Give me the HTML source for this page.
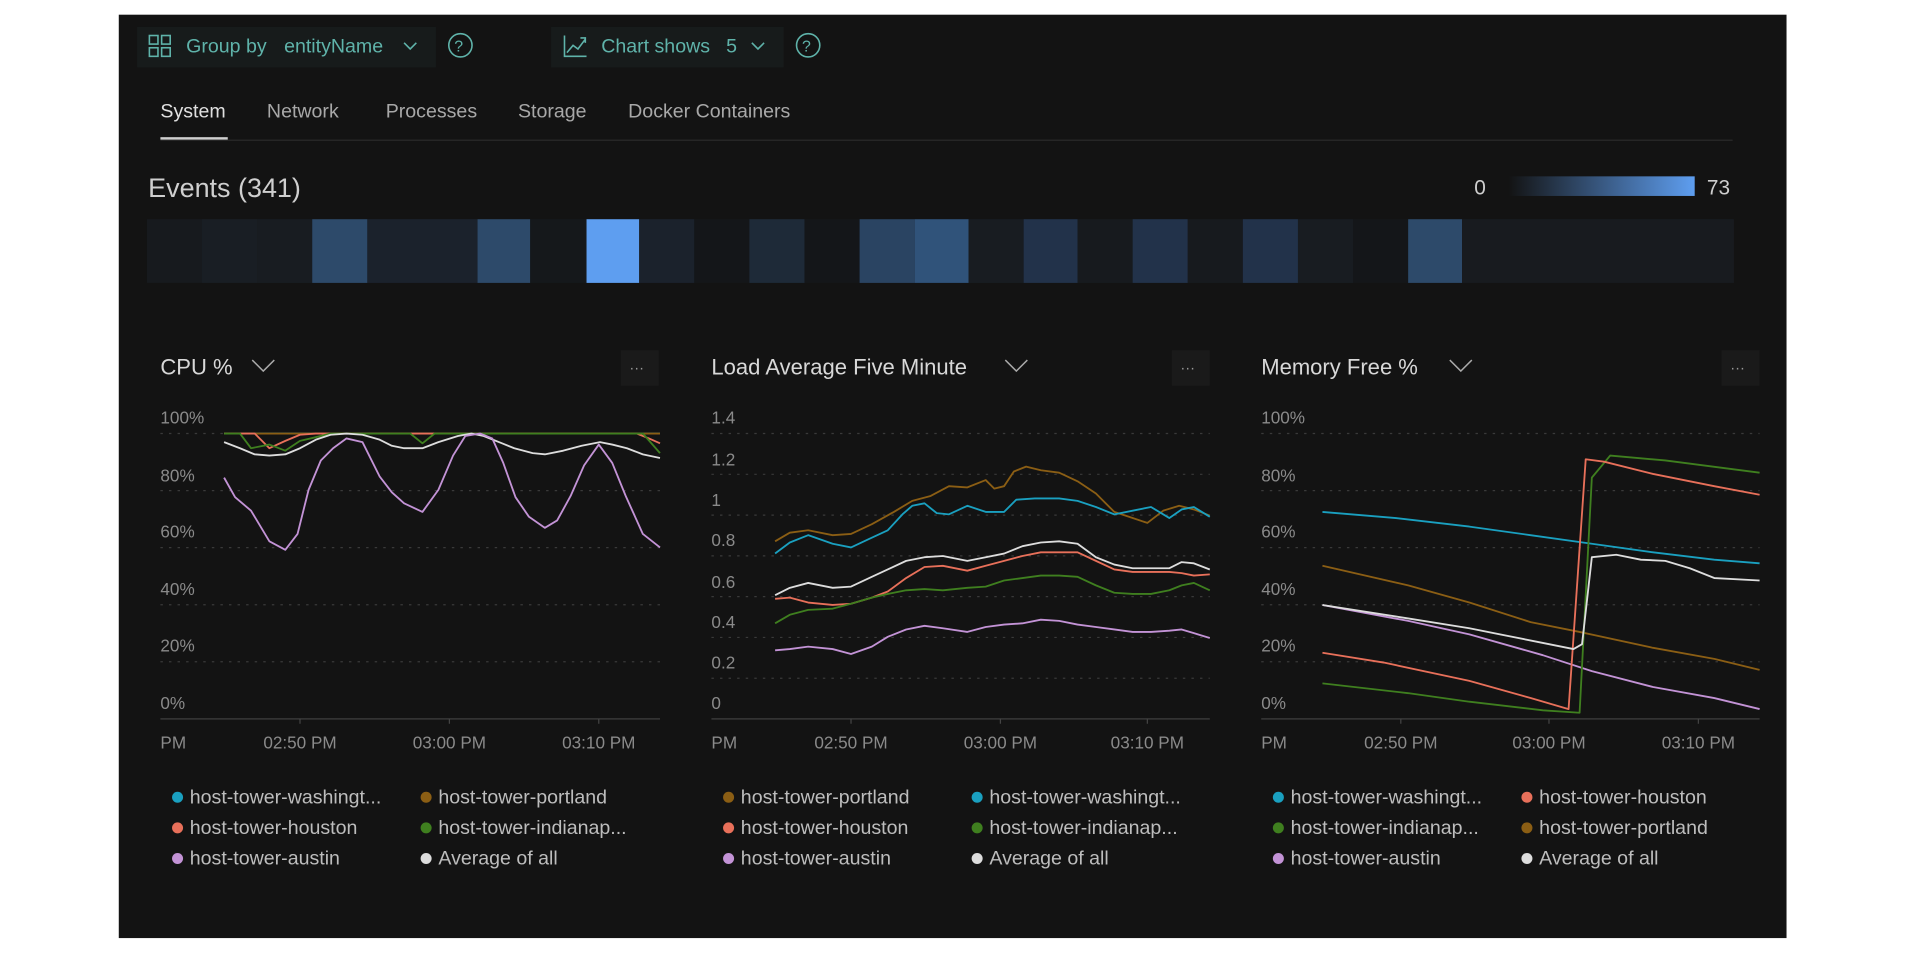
<!DOCTYPE html>
<html><head><meta charset="utf-8"><style>
html,body{margin:0;padding:0;background:#fff;width:1920px;height:954px;overflow:hidden}
svg{display:block}
text{font-family:"Liberation Sans",sans-serif}
</style></head><body>
<svg width="1920" height="954" viewBox="0 0 1568 779" preserveAspectRatio="none">
<rect x="0" y="0" width="1568" height="779" fill="#fff"/>
<rect x="97" y="12" width="1362" height="754" fill="#131313"/>
<!-- toolbar -->
<rect x="112" y="22" width="244" height="33" fill="#171b1b"/>
<rect x="450" y="22" width="190" height="33" fill="#171b1b"/>
<g fill="none" stroke="#5fb3aa" stroke-width="1.3">
<rect x="122" y="29" width="7" height="7"/><rect x="132" y="29" width="7" height="7"/>
<rect x="122" y="39" width="7" height="7"/><rect x="132" y="39" width="7" height="7"/>
<path d="M330 35 l5 5 l5 -5"/>
<circle cx="376" cy="37" r="9.5"/>
<path d="M461 29 v17 h18 M463 43 l5 -6 l4 3 l6 -8 M474 31 h4 v4"/>
<path d="M614 35 l5 5 l5 -5"/>
<circle cx="660" cy="37" r="9.5"/>
</g>
<g fill="#5fb3aa" font-size="16">
<text x="152" y="43">Group by</text><text x="232" y="43">entityName</text>
<text x="491" y="43">Chart shows</text><text x="593" y="43">5</text>
<text x="371" y="42" font-size="13">?</text><text x="655" y="42" font-size="13">?</text>
</g>
<!-- tabs -->
<g font-size="16" fill="#a8a8a8">
<text x="131" y="96" fill="#e0e0e0">System</text>
<text x="218" y="96">Network</text><text x="315" y="96">Processes</text>
<text x="423" y="96">Storage</text><text x="513" y="96">Docker Containers</text>
</g>
<rect x="131" y="114" width="1284" height="1" fill="#2a2a2a"/>
<rect x="131" y="112" width="55" height="2" fill="#cfcfcf"/>
<!-- events -->
<text x="121" y="161" font-size="22" fill="#cfcfcf">Events (341)</text>
<defs><linearGradient id="g" x1="0" x2="1"><stop offset="0" stop-color="#131313"/><stop offset="1" stop-color="#5e9ef0"/></linearGradient></defs>
<rect x="1232" y="144" width="152" height="16" fill="url(#g)"/>
<text x="1204" y="159" font-size="17" fill="#cfcfcf">0</text>
<text x="1394" y="159" font-size="17" fill="#cfcfcf">73</text>
<g>
<rect x="120" y="179" width="1296" height="52" fill="#171a1e"/>
<rect x="165" y="179" width="45" height="52" fill="#191e24"/>
<rect x="210" y="179" width="45" height="52" fill="#181c21"/>
<rect x="255" y="179" width="45" height="52" fill="#2d4a6a"/>
<rect x="300" y="179" width="90" height="52" fill="#1b222c"/>
<rect x="390" y="179" width="43" height="52" fill="#2d4a6a"/>
<rect x="433" y="179" width="45" height="52" fill="#15181b"/>
<rect x="479" y="179" width="43" height="52" fill="#5e9ef0"/>
<rect x="522" y="179" width="45" height="52" fill="#1b222c"/>
<rect x="567" y="179" width="45" height="52" fill="#141619"/>
<rect x="612" y="179" width="45" height="52" fill="#1e2a38"/>
<rect x="657" y="179" width="45" height="52" fill="#141619"/>
<rect x="702" y="179" width="45" height="52" fill="#2a4462"/>
<rect x="747" y="179" width="44" height="52" fill="#30537a"/>
<rect x="791" y="179" width="45" height="52" fill="#181c21"/>
<rect x="836" y="179" width="44" height="52" fill="#22324a"/>
<rect x="880" y="179" width="45" height="52" fill="#171a1e"/>
<rect x="925" y="179" width="45" height="52" fill="#22324a"/>
<rect x="970" y="179" width="45" height="52" fill="#171a1e"/>
<rect x="1015" y="179" width="45" height="52" fill="#22324a"/>
<rect x="1060" y="179" width="45" height="52" fill="#181c21"/>
<rect x="1105" y="179" width="45" height="52" fill="#141619"/>
<rect x="1150" y="179" width="44" height="52" fill="#2d4a6a"/>
<rect x="1194" y="179" width="222" height="52" fill="#181b1f"/>
</g>
<!-- chart frames -->
<g font-size="18" fill="#d8d8d8">
<text x="131" y="306">CPU %</text><text x="581" y="306">Load Average Five Minute</text><text x="1030" y="306">Memory Free %</text>
</g>
<g fill="none" stroke="#aaa" stroke-width="1.2">
<path d="M206 294 l9 9 l9 -9"/><path d="M821 294 l9 9 l9 -9"/><path d="M1184 294 l9 9 l9 -9"/>
</g>
<g fill="#1a1a1a"><rect x="507" y="286" width="31" height="29"/><rect x="957" y="286" width="31" height="29"/><rect x="1406" y="286" width="31" height="29"/></g>
<g fill="#999" font-size="12"><text x="514" y="304">···</text><text x="964" y="304">···</text><text x="1413" y="304">···</text></g>
<!-- gridlines -->
<g stroke="#3a3a3a" stroke-dasharray="2 5" stroke-width="1">
<path d="M131 354H539M131 400.6H539M131 447.2H539M131 493.8H539M131 540.4H539"/>
<path d="M581 354H988M581 387.3H988M581 420.6H988M581 453.9H988M581 487.2H988M581 520.5H988M581 553.8H988"/>
<path d="M1030 354H1437M1030 400.6H1437M1030 447.2H1437M1030 493.8H1437M1030 540.4H1437"/>
</g>
<g stroke="#333" stroke-width="1.5"><path d="M131 587H539M581 587H988M1030 587H1437"/></g>
<g stroke="#444" stroke-width="1"><path d="M245 587v4M367 587v4M489 587v4M695 587v4M817 587v4M937 587v4M1144 587v4M1265 587v4M1387 587v4"/></g>
<g font-size="14" fill="#8a8a8a">
<text x="131" y="346">100%</text><text x="131" y="393">80%</text><text x="131" y="439">60%</text><text x="131" y="486">40%</text><text x="131" y="532">20%</text><text x="131" y="579">0%</text>
<text x="581" y="346">1.4</text><text x="581" y="380">1.2</text><text x="581" y="413">1</text><text x="581" y="446">0.8</text><text x="581" y="480">0.6</text><text x="581" y="513">0.4</text><text x="581" y="546">0.2</text><text x="581" y="579">0</text>
<text x="1030" y="346">100%</text><text x="1030" y="393">80%</text><text x="1030" y="439">60%</text><text x="1030" y="486">40%</text><text x="1030" y="532">20%</text><text x="1030" y="579">0%</text>
<g text-anchor="middle"><text x="245" y="611">02:50 PM</text><text x="367" y="611">03:00 PM</text><text x="489" y="611">03:10 PM</text>
<text x="695" y="611">02:50 PM</text><text x="817" y="611">03:00 PM</text><text x="937" y="611">03:10 PM</text>
<text x="1144" y="611">02:50 PM</text><text x="1265" y="611">03:00 PM</text><text x="1387" y="611">03:10 PM</text></g>
<text x="131" y="611">PM</text><text x="581" y="611">PM</text><text x="1030" y="611">PM</text>
</g>
<!-- CPU series -->
<g fill="none" stroke-width="1.5" stroke-linejoin="round">
<polyline stroke="#1aa0c0" points="183,354 539,354"/>
<polyline stroke="#8b5e14" points="183,354 539,354"/>
<polyline stroke="#e8705a" points="183,354 208,354 220,366 233,360 245,355 258,354 520,354 530,358 539,362"/>
<polyline stroke="#3f7f1f" points="183,354 196,354 205,366 220,363 233,368 245,360 258,357 270,354 335,354 345,362 355,354 525,354 539,370"/>
<polyline stroke="#dddddd" points="183,361 196,366 208,371 220,372 233,371 245,366 258,359 270,355 283,354 296,355 310,359 320,364 330,366 345,366 358,361 374,356 385,354 395,356 410,362 420,366 435,370 445,371 460,368 475,364 490,361 500,363 512,366 525,371 539,374"/>
<polyline stroke="#c393d6" points="183,390 192,406 205,417 220,442 233,449 243,436 252,400 262,376 272,366 283,358 296,361 310,389 320,402 330,411 345,418 358,400 370,372 380,356 392,354 402,358 411,378 421,406 432,422 445,431 455,425 466,405 477,380 489,363 500,378 511,405 525,436 539,447"/>
</g>
<!-- Load series -->
<g fill="none" stroke-width="1.5" stroke-linejoin="round">
<polyline stroke="#8b5e14" points="633,442 645,435 660,433 680,437 695,436 712,428 730,418 745,409 760,405 775,397 790,398 805,392 812,399 820,397 828,385 838,381 850,384 865,386 880,393 895,403 910,418 925,423 937,427 950,417 963,413 975,416 988,421"/>
<polyline stroke="#1aa0c0" points="633,452 645,443 660,437 680,444 695,447 710,440 725,433 737,420 745,413 755,411 765,419 775,420 790,413 805,418 820,418 830,408 845,407 865,407 880,409 895,414 910,420 925,417 940,414 955,423 965,416 975,414 988,422"/>
<polyline stroke="#dddddd" points="633,486 645,480 660,476 680,480 695,479 712,471 725,465 740,458 755,455 770,454 790,458 805,455 820,452 835,446 850,443 865,442 880,444 895,455 910,461 925,464 940,464 955,464 965,459 975,460 988,465"/>
<polyline stroke="#e8705a" points="633,489 645,488 660,492 680,494 695,493 712,488 725,483 740,472 755,463 770,462 790,466 805,462 820,458 835,454 850,451 865,451 880,451 895,458 910,465 925,467 940,467 955,467 965,468 975,470 988,469"/>
<polyline stroke="#3f7f1f" points="633,509 645,502 660,498 680,497 695,493 712,488 725,485 740,482 755,481 770,482 790,480 805,479 820,474 835,472 850,470 865,470 880,471 895,478 910,484 925,485 940,485 955,482 965,478 975,476 988,482"/>
<polyline stroke="#c393d6" points="633,531 645,530 660,528 680,530 695,534 712,528 725,520 740,514 755,511 770,513 790,516 805,512 820,510 835,509 850,506 865,507 880,510 895,512 910,514 925,516 940,516 955,515 965,514 975,517 988,521"/>
</g>
<!-- Memory series -->
<g fill="none" stroke-width="1.5" stroke-linejoin="round">
<polyline stroke="#1aa0c0" points="1080,418 1140,423 1200,430 1250,437 1300,444 1350,451 1400,457 1437,460"/>
<polyline stroke="#8b5e14" points="1080,462 1150,478 1200,492 1250,508 1290,516 1350,529 1400,538 1437,547"/>
<polyline stroke="#c393d6" points="1080,494 1150,507 1200,518 1260,535 1300,548 1350,561 1400,570 1437,579"/>
<polyline stroke="#3f7f1f" points="1080,558 1150,566 1200,573 1260,580 1290,582 1300,390 1315,372 1360,376 1437,386"/>
<polyline stroke="#e8705a" points="1080,533 1130,541 1200,556 1250,570 1281,579 1295,375 1310,377 1350,387 1400,397 1437,404"/>
<polyline stroke="#dddddd" points="1080,494 1150,505 1200,513 1260,525 1285,530 1292,526 1300,455 1320,453 1340,457 1360,458 1380,464 1400,472 1437,474"/>
</g>
<!-- legends -->
<g font-size="16" fill="#bdbdbd">
<circle cx="145" cy="651" r="4.5" fill="#1aa0c0"/><text x="155" y="656">host-tower-washingt...</text>
<circle cx="348" cy="651" r="4.5" fill="#8b5e14"/><text x="358" y="656">host-tower-portland</text>
<circle cx="145" cy="676" r="4.5" fill="#e8705a"/><text x="155" y="681">host-tower-houston</text>
<circle cx="348" cy="676" r="4.5" fill="#3f7f1f"/><text x="358" y="681">host-tower-indianap...</text>
<circle cx="145" cy="701" r="4.5" fill="#c393d6"/><text x="155" y="706">host-tower-austin</text>
<circle cx="348" cy="701" r="4.5" fill="#dddddd"/><text x="358" y="706">Average of all</text>

<circle cx="595" cy="651" r="4.5" fill="#8b5e14"/><text x="605" y="656">host-tower-portland</text>
<circle cx="798" cy="651" r="4.5" fill="#1aa0c0"/><text x="808" y="656">host-tower-washingt...</text>
<circle cx="595" cy="676" r="4.5" fill="#e8705a"/><text x="605" y="681">host-tower-houston</text>
<circle cx="798" cy="676" r="4.5" fill="#3f7f1f"/><text x="808" y="681">host-tower-indianap...</text>
<circle cx="595" cy="701" r="4.5" fill="#c393d6"/><text x="605" y="706">host-tower-austin</text>
<circle cx="798" cy="701" r="4.5" fill="#dddddd"/><text x="808" y="706">Average of all</text>

<circle cx="1044" cy="651" r="4.5" fill="#1aa0c0"/><text x="1054" y="656">host-tower-washingt...</text>
<circle cx="1247" cy="651" r="4.5" fill="#e8705a"/><text x="1257" y="656">host-tower-houston</text>
<circle cx="1044" cy="676" r="4.5" fill="#3f7f1f"/><text x="1054" y="681">host-tower-indianap...</text>
<circle cx="1247" cy="676" r="4.5" fill="#8b5e14"/><text x="1257" y="681">host-tower-portland</text>
<circle cx="1044" cy="701" r="4.5" fill="#c393d6"/><text x="1054" y="706">host-tower-austin</text>
<circle cx="1247" cy="701" r="4.5" fill="#dddddd"/><text x="1257" y="706">Average of all</text>
</g>
</svg>
</body></html>
